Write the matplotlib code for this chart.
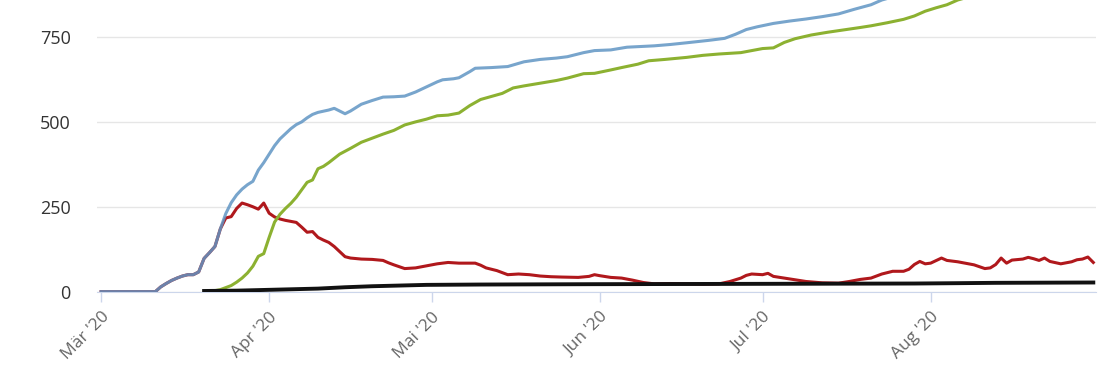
import numpy as np
import matplotlib
matplotlib.use("Agg")
import matplotlib.pyplot as plt
import matplotlib.dates as mdates

plt.rcParams['font.family'] = ['Open Sans', 'DejaVu Sans']

start = np.datetime64('2020-03-01')

# days since 1 Mar 2020
cases_days = [0, 10, 11, 12, 13, 14, 15, 16, 17, 18, 19, 20, 21, 22, 23, 24, 25, 26, 27, 28, 29, 30,
              31, 32, 33, 34, 35, 36, 37, 38, 39, 40, 42, 43, 44, 45, 46, 48, 50, 52, 54, 56, 58, 60,
              62, 63, 65, 66, 68, 69, 72, 75, 78, 81, 84, 86, 89, 91, 94, 97, 102, 105, 108, 112, 115,
              117, 119, 121, 124, 127, 130, 133, 136, 139, 142, 144, 146, 150, 155, 160, 170, 183]
cases = [0, 0, 14, 24, 33, 40, 46, 50, 50, 58, 98, 115, 133, 185, 230, 262, 285, 302, 315, 325, 358, 380,
         405, 430, 450, 465, 480, 492, 500, 512, 522, 528, 535, 540, 532, 524, 532, 552, 563, 573, 574, 576,
         588, 603, 618, 624, 627, 630, 648, 658, 660, 663, 677, 684, 688, 692, 704, 710, 712, 720, 724, 728,
         733, 740, 746, 758, 772, 780, 790, 797, 803, 810, 818, 832, 845, 859, 868, 885, 905, 925, 960, 1000]

recovered_days = [20, 22, 24, 25, 26, 27, 28, 29, 30, 31, 32, 33, 34, 35, 36, 37, 38, 39, 40, 41, 42, 44,
                  46, 48, 50, 52, 54, 56, 58, 60, 62, 64, 66, 68, 70, 72, 74, 76, 78, 81, 84, 86, 89, 91,
                  94, 96, 99, 101, 104, 108, 111, 114, 118, 120, 122, 124, 126, 128, 131, 134, 137, 140,
                  142, 145, 148, 150, 152, 154, 156, 158, 160, 165, 170, 183]
recovered = [0, 6, 18, 28, 40, 55, 75, 104, 112, 160, 205, 228, 245, 260, 278, 300, 322, 329, 362, 369, 380,
             405, 422, 440, 452, 464, 475, 491, 500, 508, 518, 520, 526, 548, 566, 575, 584, 600, 606, 614,
             622, 629, 642, 643, 653, 660, 670, 680, 684, 690, 696, 700, 704, 710, 716, 718, 734, 745, 756,
             764, 771, 778, 783, 792, 802, 812, 826, 836, 845, 859, 868, 885, 905, 950]

active_days = [0, 10, 11, 12, 13, 14, 15, 16, 17, 18, 19, 20, 21, 22, 23, 24, 25, 26, 27, 28, 29, 30, 31,
               32, 33, 34, 36, 37, 38, 39, 40, 41, 42, 43, 44, 45, 46, 48, 50, 52, 53, 54, 56, 58, 60, 62,
               64, 66, 69, 70, 71, 73, 75, 77, 79, 81, 83, 85, 88, 90, 91, 92, 94, 96, 98, 100, 102, 105,
               108, 111, 114, 116, 118, 119, 120, 122, 123, 124, 126, 128, 130, 133, 136, 138, 140, 142,
               144, 146, 148, 149, 150, 151, 152, 153, 155, 156, 158, 160, 161, 163, 164, 165, 166, 167,
               168, 170, 171, 172, 173, 174, 175, 177, 179, 180, 181, 182, 183]
active = [0, 0, 14, 24, 33, 40, 46, 50, 50, 58, 98, 115, 133, 185, 217, 221, 245, 261, 256, 250, 243, 261,
          231, 220, 214, 210, 204, 190, 175, 177, 160, 152, 145, 133, 118, 103, 99, 96, 95, 92, 85, 79, 68,
          70, 76, 82, 86, 84, 84, 78, 70, 62, 50, 52, 50, 46, 44, 43, 42, 45, 50, 47, 42, 40, 34, 27, 23,
          24, 23, 22, 23, 30, 40, 48, 52, 50, 54, 45, 40, 35, 30, 26, 25, 30, 36, 40, 52, 60, 60, 66, 80,
          89, 82, 84, 99, 92, 88, 82, 79, 68, 70, 80, 99, 84, 93, 96, 101, 97, 92, 99, 89, 82, 88, 94, 96,
          102, 86]

deaths_days = [19, 25, 30, 35, 40, 45, 50, 55, 60, 70, 90, 120, 150, 158, 165, 183]
deaths = [2, 3, 5, 7, 9, 13, 16, 18, 20, 21, 22, 23, 24, 25, 26, 27]

month_ticks = ['2020-03-01', '2020-04-01', '2020-05-01', '2020-06-01', '2020-07-01', '2020-08-01']
month_labels = ["Mär '20", "Apr '20", "Mai '20", "Jun '20", "Jul '20", "Aug '20"]
y_ticks = [0, 250, 500, 750]


def to_dates(days):
    return start + np.array(days).astype('timedelta64[D]')


fig = plt.figure(figsize=(11.1, 3.7), dpi=100)
ax = fig.add_axes([0.0874, 0.2108, 0.9, 0.7892])

ax.plot(to_dates(active_days), active, color='#b0181c', lw=2.2, zorder=3)
ax.plot(to_dates(cases_days), cases, color='#6095c4', lw=2.2, alpha=0.85, zorder=4)
ax.plot(to_dates(recovered_days), recovered, color='#8cb131', lw=2.2, zorder=3)
ax.plot(to_dates(deaths_days), deaths, color='#111111', lw=2.8, zorder=5)

# spine position resets ticks, so do it before styling the labels
for s in ['top', 'right', 'left']:
    ax.spines[s].set_visible(False)
ax.spines['bottom'].set_position(('data', 0))
ax.spines['bottom'].set_color('#ccd6eb')
ax.set_axisbelow(True)

ax.set_ylim(-1, 859)
ax.set_xlim(np.datetime64('2020-02-29T06'), np.datetime64('2020-08-31T12'))

ax.tick_params(axis='y', length=0, pad=19)
ax.tick_params(axis='x', length=7.5, width=1, color='#ccd6eb', pad=5)

ax.set_yticks(y_ticks)
ax.set_yticklabels([str(v) for v in y_ticks], color='#333333', fontsize=13)
ax.grid(axis='y', color='#e6e6e6', lw=1)

ticks = [mdates.date2num(np.datetime64(t)) for t in month_ticks]
ax.set_xticks(ticks)
ax.set_xticklabels(month_labels, color='#666666', fontsize=12.5, rotation=45,
                   ha='right', rotation_mode='anchor')

fig.savefig('out.png', dpi=100)
